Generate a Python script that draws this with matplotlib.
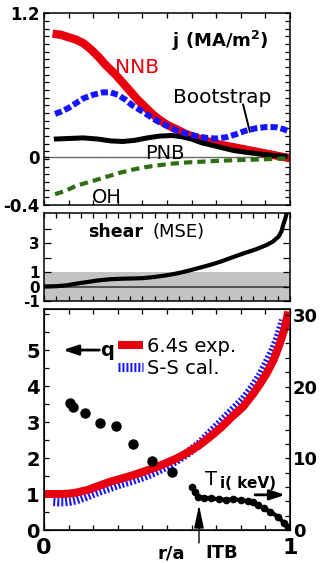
import numpy as np
import matplotlib
matplotlib.use('Agg')
import matplotlib.pyplot as plt
from matplotlib.ticker import FixedLocator, MultipleLocator

plt.rcParams['font.family'] = ['DejaVu Sans']
plt.rcParams['axes.unicode_minus'] = False

# ---------------- data ----------------
# Panel 1: current density components j (MA/m^2) vs r/a
r_nnb = [0.035, 0.07, 0.10, 0.13, 0.16, 0.19, 0.22, 0.25, 0.29, 0.32, 0.35, 0.38,
         0.41, 0.44, 0.47, 0.50, 0.54, 0.58, 0.62, 0.66, 0.70, 0.75, 0.80, 0.85,
         0.90, 0.95, 1.00]
j_nnb = [1.03, 1.02, 1.00, 0.98, 0.95, 0.90, 0.84, 0.77, 0.69, 0.62, 0.55, 0.48,
         0.42, 0.36, 0.31, 0.27, 0.23, 0.19, 0.16, 0.135, 0.11, 0.09, 0.07, 0.05,
         0.03, 0.01, -0.01]
r_bs = [0.045, 0.07, 0.10, 0.13, 0.16, 0.20, 0.24, 0.27, 0.30, 0.33, 0.36, 0.40,
        0.43, 0.46, 0.50, 0.54, 0.58, 0.62, 0.66, 0.70, 0.74, 0.78, 0.82, 0.86,
        0.90, 0.94, 0.97, 0.99]
j_bs = [0.36, 0.38, 0.41, 0.45, 0.49, 0.52, 0.54, 0.54, 0.52, 0.48, 0.43, 0.38,
        0.34, 0.30, 0.26, 0.22, 0.195, 0.175, 0.16, 0.155, 0.165, 0.19, 0.22, 0.24,
        0.25, 0.25, 0.235, 0.22]
r_pnb = [0.04, 0.10, 0.16, 0.22, 0.27, 0.32, 0.37, 0.42, 0.47, 0.52, 0.56, 0.60,
         0.64, 0.68, 0.72, 0.77, 0.82, 0.88, 0.94, 0.99]
j_pnb = [0.15, 0.155, 0.16, 0.15, 0.135, 0.13, 0.14, 0.16, 0.175, 0.18, 0.17, 0.15,
         0.12, 0.10, 0.08, 0.055, 0.04, 0.025, 0.012, 0.005]
r_oh = [0.045, 0.09, 0.13, 0.18, 0.23, 0.27, 0.31, 0.36, 0.41, 0.46, 0.52, 0.58,
        0.65, 0.72, 0.80, 0.88, 0.99]
j_oh = [-0.31, -0.28, -0.24, -0.21, -0.18, -0.155, -0.13, -0.105, -0.085, -0.07,
        -0.055, -0.045, -0.038, -0.03, -0.025, -0.02, -0.01]

# Panel 2: magnetic shear (MSE)
r_sh = [0.0, 0.05, 0.09, 0.133, 0.18, 0.22, 0.268, 0.32, 0.37, 0.404, 0.45, 0.50,
        0.539, 0.58, 0.62, 0.675, 0.72, 0.76, 0.81, 0.86, 0.905, 0.93, 0.953,
        0.965, 0.973, 0.981, 0.987]
shear = [0.0, 0.02, 0.08, 0.20, 0.32, 0.42, 0.50, 0.54, 0.56, 0.58, 0.66, 0.78,
         0.90, 1.06, 1.24, 1.49, 1.73, 1.98, 2.28, 2.56, 2.87, 3.10, 3.44,
         3.80, 4.30, 4.70, 5.10]

# Panel 3: safety factor q and ion temperature
r_q = [0.0, 0.07, 0.10, 0.133, 0.18, 0.22, 0.268, 0.31, 0.36, 0.404, 0.45, 0.50,
       0.539, 0.58, 0.63, 0.675, 0.72, 0.76, 0.81, 0.85, 0.88, 0.905, 0.935,
       0.959, 0.978, 0.993]
q_exp = [1.0, 1.0, 1.01, 1.04, 1.12, 1.22, 1.34, 1.42, 1.52, 1.62, 1.73, 1.87,
         1.99, 2.14, 2.35, 2.59, 2.85, 3.12, 3.43, 3.78, 4.08, 4.35, 4.75,
         5.19, 5.60, 6.07]
r_ss = [0.038, 0.06, 0.08, 0.105, 0.133, 0.17, 0.21, 0.268, 0.31, 0.36, 0.404,
        0.45, 0.50, 0.539, 0.58, 0.63, 0.675, 0.72, 0.76, 0.81, 0.85, 0.88,
        0.905, 0.935, 0.955, 0.973]
q_ss = [0.79, 0.78, 0.78, 0.80, 0.84, 0.93, 1.04, 1.18, 1.28, 1.38, 1.48,
        1.61, 1.78, 1.94, 2.12, 2.38, 2.69, 3.00, 3.28, 3.62, 3.98, 4.30,
        4.63, 5.05, 5.42, 5.83]
r_mse = [0.106, 0.117, 0.167, 0.228, 0.293, 0.363, 0.44, 0.522]
q_mse = [3.52, 3.41, 3.24, 2.98, 2.89, 2.39, 1.93, 1.62]
r_ti = [0.603, 0.615, 0.625, 0.65, 0.68, 0.71, 0.74, 0.77, 0.80, 0.83, 0.85,
        0.87, 0.895, 0.92, 0.95, 0.977, 0.99]
ti = [6.0, 5.3, 4.6, 4.5, 4.4, 4.3, 4.2, 4.3, 4.15, 4.0, 3.9,
      3.5, 3.0, 2.55, 1.86, 0.93, 0.37]
r_itb = 0.63

# ---------------- figure ----------------
fig = plt.figure(figsize=(3.24, 5.63), dpi=100)
L, W = 0.1358, 0.7593
ax1 = fig.add_axes([L, 0.6359, W, 0.3405])
ax2 = fig.add_axes([L, 0.4654, W, 0.1568])
ax3 = fig.add_axes([L, 0.0586, W, 0.3925])

for ax in (ax1, ax2, ax3):
    ax.set_xlim(0, 1)
    for s in ax.spines.values():
        s.set_linewidth(1.1)
    ax.tick_params(which='both', direction='in', top=True, right=True,
                   width=0.9, length=3.5)

RED = '#e8000e'
BLUE = '#1414ff'
GREEN = '#2e6e12'

# ---- panel 1 ----
ax1.set_ylim(-0.4, 1.2)
ax1.axhline(0, color='#666666', lw=1.0, zorder=1)
ax1.plot(r_nnb, j_nnb, color=RED, lw=6.0, solid_capstyle='butt',
         solid_joinstyle='round', zorder=2)
ax1.plot(r_pnb, j_pnb, color='black', lw=3.6, solid_capstyle='butt', zorder=3)
ax1.plot(r_oh, j_oh, color=GREEN, lw=3.0, linestyle=(0, (2.0, 1.2)),
         dash_capstyle='butt', zorder=3)
ax1.plot(r_bs, j_bs, color=BLUE, lw=4.3, linestyle=(0, (1.2, 0.5)),
         dash_capstyle='butt', zorder=4)
ax1.set_yticks([-0.4, 0, 1.2], ['-0.4', '0', '1.2'])
ax1.yaxis.set_minor_locator(FixedLocator(np.linspace(-0.4, 1.2, 26)))
ax1.xaxis.set_major_locator(MultipleLocator(0.1))
ax1.tick_params(labelbottom=False, labelsize=12, pad=3)
ax1.text(0.52, 0.915, r'j (MA/m$^{\mathbf{2}}$)', fontsize=13, fontweight='bold')
ax1.text(0.289, 0.70, 'NNB', color=RED, fontsize=14.5)
ax1.text(0.524, 0.455, 'Bootstrap', fontsize=14.5)
ax1.annotate('', xy=(0.837, 0.21), xytext=(0.809, 0.44),
             arrowprops=dict(arrowstyle='-', color='black', lw=1.4,
                             shrinkA=0, shrinkB=0))
ax1.text(0.41, -0.017, 'PNB', fontsize=14, zorder=5)
ax1.text(0.195, -0.385, 'OH', fontsize=14, clip_on=True, zorder=5)

# ---- panel 2 ----
ax2.set_ylim(-1, 5.1)
ax2.axhspan(-1, 1, color='#c3c3c3', lw=0, zorder=0)
ax2.axhline(0, color='#505050', lw=1.4, zorder=1)
ax2.plot(r_sh, shear, color='black', lw=3.0, solid_joinstyle='round', zorder=3)
ax2.set_yticks([-1, 0, 1, 2, 3, 4], ['-1', '0', '1', '', '3', ''])
ax2.xaxis.set_major_locator(MultipleLocator(0.05))
ax2.tick_params(labelbottom=False, labelsize=11, pad=3)
ax2.tick_params(axis='y', length=5)
ax2.text(0.179, 3.42, 'shear', fontsize=12.5, fontweight='bold')
ax2.text(0.443, 3.42, '(MSE)', fontsize=13)

# ---- panel 3 ----
ax3.set_ylim(0, 6.14)
l_ss, = ax3.plot(r_ss, q_ss, color=BLUE, lw=6.5, linestyle=(0, (0.22, 0.22)),
                 dash_capstyle='butt', zorder=2)
l_exp, = ax3.plot(r_q, q_exp, color=RED, lw=5.8, solid_capstyle='butt',
                  solid_joinstyle='round', zorder=3)
ax3.plot(r_mse, q_mse, 'o', color='black', ms=6.5, zorder=4)
ax3.set_yticks([0, 1, 2, 3, 4, 5])
ax3.yaxis.set_minor_locator(MultipleLocator(0.5))
ax3.set_xticks([0, 1], ['0', '1'])
ax3.xaxis.set_minor_locator(MultipleLocator(0.1))
ax3.tick_params(axis='y', labelsize=14, pad=3)
ax3.tick_params(axis='x', labelsize=16, pad=5.5)
ax3.tick_params(right=False, which='both', axis='y')
ax3.legend(handles=[l_exp, l_ss], labels=['6.4s exp.', 'S-S cal.'],
           loc='upper left', bbox_to_anchor=(0.30, 0.875), frameon=False,
           borderpad=0, borderaxespad=0, handlelength=1.3, handletextpad=0.2,
           labelspacing=0.15, fontsize=14)
ax3.annotate('', xy=(0.077, 5.0), xytext=(0.225, 5.0),
             arrowprops=dict(arrowstyle='-|>,head_length=0.9,head_width=0.3',
                             color='black', lw=2, shrinkA=0, shrinkB=0))
ax3.text(0.228, 5.0, 'q', fontsize=14, fontweight='bold', va='center')
ax3.annotate('', xy=(r_itb, 0.69), xytext=(r_itb, -0.36),
             arrowprops=dict(arrowstyle='-|>,head_length=1.4,head_width=0.3',
                             color='black', lw=1.0, shrinkA=0, shrinkB=0),
             annotation_clip=False)
ax3.set_xlabel('r/a', fontsize=13, fontweight='bold')
ax3.xaxis.set_label_coords(0.516, -0.065)
ax3.text(0.724, -0.065, 'ITB', transform=ax3.transAxes, fontsize=13,
         fontweight='bold', ha='center', va='top')

ax3b = ax3.twinx()
ax3b.set_ylim(0, 30.8)
ax3b.plot(r_ti, ti, color='black', lw=3.0, marker='o', ms=4.5, zorder=4)
ax3b.set_yticks([0, 10, 20, 30])
ax3b.yaxis.set_minor_locator(MultipleLocator(2))
ax3b.tick_params(which='both', direction='in', width=0.9, length=3.5,
                 labelsize=13, pad=2)
ax3b.text(0.654, 6.3, 'T', fontsize=14)
ax3b.text(0.715, 5.9, 'i( keV)', fontsize=11, fontweight='bold')
ax3b.annotate('', xy=(0.98, 4.9), xytext=(0.858, 4.9),
              arrowprops=dict(arrowstyle='-|>,head_length=0.9,head_width=0.3',
                              color='black', lw=2, shrinkA=0, shrinkB=0))

for ax in (ax1, ax2, ax3, ax3b):
    for lab in ax.get_xticklabels() + ax.get_yticklabels():
        lab.set_fontweight('bold')

fig.savefig('out.png', dpi=100)
